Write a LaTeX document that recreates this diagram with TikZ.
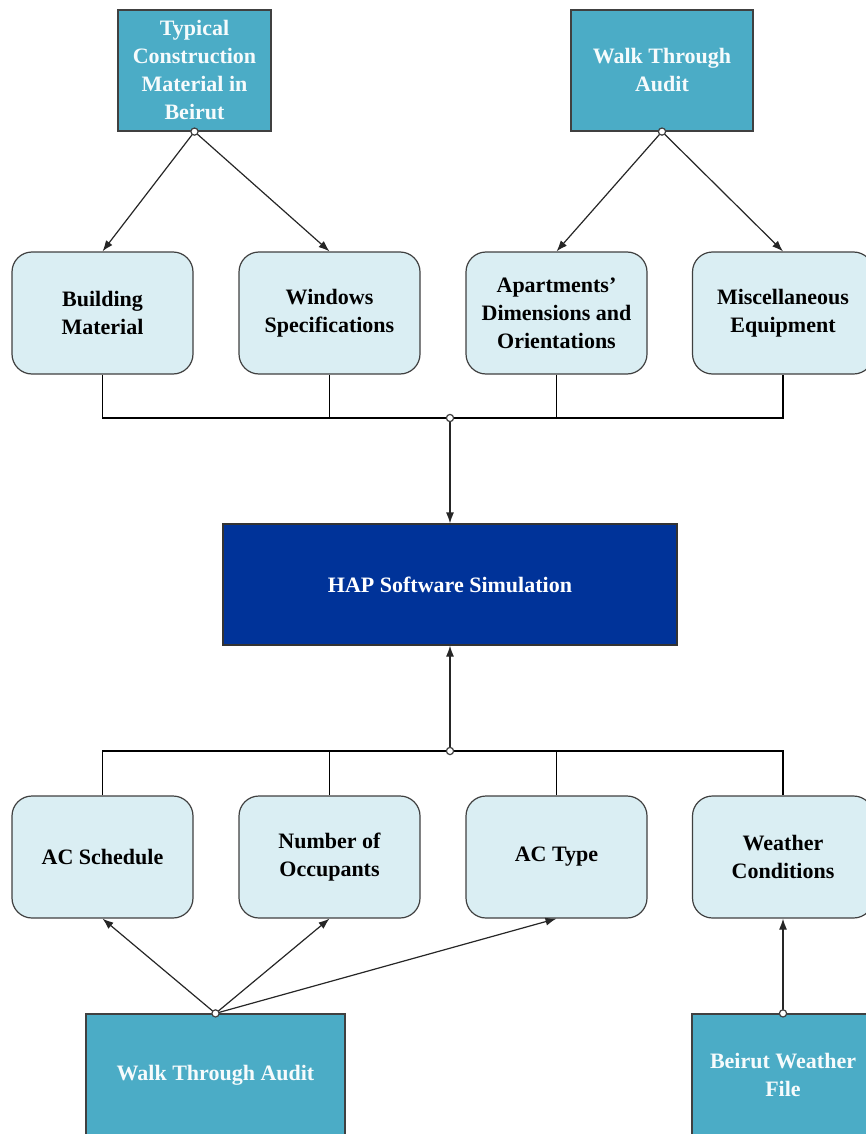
\documentclass[tikz,border=0pt]{standalone}
\usepackage{fontspec}
\setmainfont{Liberation Serif}
\usetikzlibrary{arrows.meta}
\definecolor{TealBox}{HTML}{4BACC6}
\definecolor{PaleBox}{HTML}{DAEEF3}
\definecolor{HapBlue}{HTML}{003399}
\newcommand*{\JoinSize}{3.6}

\begin{document}
\begin{tikzpicture}
	[x=1pt,y=-1pt,line width=1.2pt,
	 boxtext/.style={align=center, font=\fontsize{22}{28}\selectfont\bfseries, inner sep=0pt},
	 source/.style={boxtext, draw=black!75, fill=TealBox, text=white!95!TealBox},
	 input/.style={boxtext, draw=black!75, fill=PaleBox, rounded corners=20pt, minimum width=181pt, minimum height=122pt},
	 tool/.style={boxtext, draw=black!80, fill=HapBlue, text=white, minimum width=454pt, minimum height=121pt},
	 link/.style={-{Latex[length=11pt,width=8pt]}, draw=black!85},
	 joint/.style={draw=black!75, fill=white, line width=1.2pt}];

	\useasboundingbox (0,0) rectangle (865,1134);

	%Sources on top
	\node[source, minimum width=153pt, minimum height=121pt] (tcm) at (194.5,70.5) {Typical\\Construction\\Material in\\Beirut};
	\node[source, minimum width=182pt, minimum height=121pt] (wta) at (662,70.5) {Walk Through\\Audit};

	%First row of inputs
	\node[input] (bm) at (102.5,313) {Building\\Material};
	\node[input] (ws) at (329.5,313) {Windows\\Specifications};
	\node[input] (ad) at (556.5,313) {Apartments'\\Dimensions and\\Orientations};
	\node[input] (me) at (783,313) {Miscellaneous\\Equipment};

	%Simulation
	\node[tool] (hap) at (450,584.5) {HAP Software Simulation};

	%Second row of inputs
	\node[input] (acs) at (102.5,857) {AC Schedule};
	\node[input] (noc) at (329.5,857) {Number of\\Occupants};
	\node[input] (act) at (556.5,857) {AC Type};
	\node[input] (wc) at (783,857) {Weather\\Conditions};

	%Sources at the bottom
	\node[source, minimum width=259pt, minimum height=122pt] (wtb) at (215.5,1075) {Walk Through Audit};
	\node[source, minimum width=182pt, minimum height=122pt] (bwf) at (783,1075) {Beirut Weather\\File};

	%Joints
	\coordinate (topjoin) at (450,418);
	\coordinate (lowjoin) at (450,751);

	%Top links
	\draw[link] (tcm.south) -- (bm.north);
	\draw[link] (tcm.south) -- (ws.north);
	\draw[link] (wta.south) -- (ad.north);
	\draw[link] (wta.south) -- (me.north);
	\draw (bm.south) -- (bm.south |- topjoin) -- (me.south |- topjoin) -- (me.south);
	\draw (ws.south) -- (ws.south |- topjoin);
	\draw (ad.south) -- (ad.south |- topjoin);
	\draw[link] (topjoin) -- (hap.north);

	%Lower links
	\draw[link] (lowjoin) -- (hap.south);
	\draw (acs.north) -- (acs.north |- lowjoin) -- (wc.north |- lowjoin) -- (wc.north);
	\draw (noc.north) -- (noc.north |- lowjoin);
	\draw (act.north) -- (act.north |- lowjoin);
	\draw[link] (wtb.north) -- (acs.south);
	\draw[link] (wtb.north) -- (noc.south);
	\draw[link] (wtb.north) -- (act.south);
	\draw[link] (bwf.north) -- (wc.south);

	\foreach \j in {tcm.south, wta.south, wtb.north, bwf.north, topjoin, lowjoin}
	{
		\draw[joint] (\j) circle[radius=\JoinSize];
	}
\end{tikzpicture}
\end{document}
